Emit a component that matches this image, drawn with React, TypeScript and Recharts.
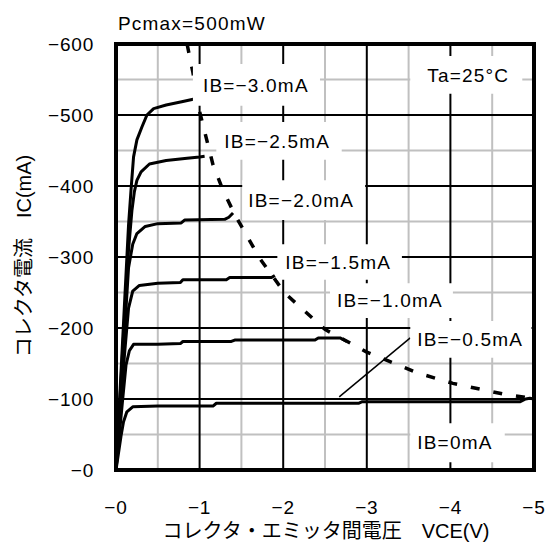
import { LineChart, Line, XAxis, YAxis, ReferenceArea, ReferenceLine } from "recharts"

const vceTicks = [0, 1, 2, 3, 4, 5]
const icTicks = [0, 100, 200, 300, 400, 500, 600]
const vceMinor = [0.5, 1.5, 2.5, 3.5, 4.5]
const icMinor = [50, 150, 250, 350, 450, 550]
const vceMajor = [1, 2, 3, 4]
const icMajor = [100, 200, 300, 400, 500]

// [VCE (V), IC (mA)], sign dropped (the axes print the minus)
const ib05 = [[0, 0], [0.03, 24], [0.06, 48], [0.09, 68], [0.13, 82], [0.2, 89], [0.5, 90], [1.16, 90], [1.2, 94], [2.9, 94], [2.94, 96], [4.83, 96], [4.9, 100], [4.95, 101], [5, 100]]
const ib10 = [[0, 0], [0.04, 50], [0.08, 100], [0.12, 148], [0.16, 168], [0.21, 177], [0.5, 177], [0.77, 178], [0.8, 181], [1.38, 181], [1.42, 183], [2.38, 183], [2.42, 186], [2.68, 186], [2.76, 181]]
const ib15 = [[0, 0], [0.05, 80], [0.1, 160], [0.15, 228], [0.2, 252], [0.28, 260], [0.5, 263], [0.77, 264], [0.8, 268], [1.32, 268], [1.36, 271], [1.86, 271], [1.9, 274]]
const ib20 = [[0, 0], [0.05, 95], [0.1, 190], [0.15, 285], [0.2, 318], [0.25, 333], [0.35, 343], [0.5, 347], [0.78, 348], [0.82, 352], [1.3, 353], [1.35, 356], [1.4, 362]]
const ib25 = [[0, 0], [0.05, 105], [0.1, 210], [0.15, 310], [0.19, 365], [0.22, 392], [0.25, 408], [0.3, 420], [0.4, 431], [0.6, 436], [0.85, 439], [1.0, 441], [1.06, 442]]
const ib30 = [[0, 0], [0.05, 115], [0.1, 230], [0.15, 345], [0.18, 395], [0.21, 441], [0.25, 465], [0.31, 483], [0.37, 500], [0.45, 509], [0.6, 514], [0.8, 519], [0.95, 523]]
const pcmax = [[0.85, 600], [0.92, 560], [1.0, 505], [1.16, 430], [1.28, 394], [1.42, 360], [1.72, 298], [2.02, 249], [2.5, 198], [3.0, 166], [3.6, 137], [4.03, 122], [4.63, 107], [4.98, 101]]

const curves = [ib05, ib10, ib15, ib20, ib25, ib30]

const toPoints = (pts: number[][]) => pts.map(([v, i]) => ({ v, i }))

const vLine = (v: number) => [{ v, i: 0 }, { v, i: 600 }]
const hLine = (i: number) => [{ v: 0, i }, { v: 5, i }]

const MINUS = "\u2212"
const fmt = (n: number) => MINUS + n

const font = "'Liberation Sans', Arial, 'Noto Sans CJK JP', sans-serif"

// white label boxes: text, left V, right V, top mA, bottom mA, text inset
const notes: [string, number, number, number, number, number][] = [
  ["IB=" + MINUS + "3.0mA", 0.92, 2.44, 572, 513, 10],
  ["IB=" + MINUS + "2.5mA", 1.2, 2.7, 490, 437, 8],
  ["IB=" + MINUS + "2.0mA", 1.51, 2.98, 408, 352, 6],
  ["IB=" + MINUS + "1.5mA", 1.93, 3.42, 318, 268, 8],
  ["IB=" + MINUS + "1.0mA", 2.56, 4.03, 263, 214, 7],
  ["IB=" + MINUS + "0.5mA", 3.52, 4.97, 210, 158, 7],
  ["IB=0mA", 3.52, 4.65, 66, 11, 7],
  ["Ta=25°C", 3.52, 4.86, 583, 530, 17],
]

const tickStyle = { fontSize: 19, fill: "#000", fontFamily: font, letterSpacing: 0.8 }

// plot area in px (chart margins below)
const plot = { left: 116, top: 44, width: 418, height: 426 }

const gridLine = (key: string, data: { v: number; i: number }[], stroke: string, width: number) => (
  <Line
    key={key}
    data={data}
    dataKey="i"
    type="linear"
    stroke={stroke}
    strokeWidth={width}
    dot={false}
    activeDot={false}
    legendType="none"
    isAnimationActive={false}
  />
)

export default function App() {
  return (
    <div style={{ position: "absolute", left: 0, top: 0, width: 548, height: 543, background: "#fff" }}>
      <LineChart width={548} height={543} margin={{ top: 44, right: 14, bottom: 33, left: 56 }}>
        <XAxis
          type="number"
          dataKey="v"
          domain={[0, 5]}
          ticks={vceTicks}
          tickFormatter={fmt}
          tickSize={0}
          tickMargin={31}
          axisLine={false}
          height={40}
          tick={tickStyle}
          allowDataOverflow
        />
        <YAxis
          type="number"
          domain={[0, 600]}
          ticks={icTicks}
          tickFormatter={fmt}
          tickSize={0}
          tickMargin={22}
          axisLine={false}
          width={60}
          tick={tickStyle}
          allowDataOverflow
        />
        {vceMinor.map((v) => gridLine("vm" + v, vLine(v), "#c0c0c0", 2))}
        {icMinor.map((i) => gridLine("im" + i, hLine(i), "#c0c0c0", 2))}
        {vceMajor.map((v) => gridLine("vM" + v, vLine(v), "#000", 2))}
        {icMajor.map((i) => gridLine("iM" + i, hLine(i), "#000", 2))}
        {curves.map((c, k) => (
          <Line
            key={"ib" + k}
            data={toPoints(c)}
            dataKey="i"
            type="linear"
            stroke="#000"
            strokeWidth={3}
            strokeLinejoin="round"
            dot={false}
            isAnimationActive={false}
          />
        ))}
        <Line
          key="pcmax"
          data={toPoints(pcmax)}
          dataKey="i"
          type="linear"
          stroke="#000"
          strokeWidth={3.5}
          strokeDasharray="9 14"
          dot={false}
          isAnimationActive={false}
        />
        <ReferenceLine segment={[{ x: 2.67, y: 103 }, { x: 3.52, y: 186 }]} stroke="#000" strokeWidth={1.5} zIndex={440} />
        {notes.map(([text, x1, x2, y1, y2, inset]) => (
          <ReferenceArea
            key={text}
            x1={x1}
            x2={x2}
            y1={y2}
            y2={y1}
            fill="#fff"
            fillOpacity={1}
            stroke="none"
            zIndex={450}
            label={{ value: text, position: "insideLeft", offset: inset, fontSize: 19, fill: "#000", fontFamily: font, letterSpacing: 1.2 }}
          />
        ))}
      </LineChart>
      {/* plot frame */}
      <div
        style={{
          position: "absolute",
          left: plot.left - 2,
          top: plot.top - 2,
          width: plot.width + 4,
          height: plot.height + 4,
          border: "4px solid #000",
          boxSizing: "border-box",
          pointerEvents: "none",
          zIndex: 5,
        }}
      />
      <div style={{ position: "absolute", left: 118, top: 24, transform: "translateY(-50%)", fontFamily: font, fontSize: 19, letterSpacing: 1.2, lineHeight: 1.15, whiteSpace: "nowrap" }}>
        Pcmax=500mW
      </div>
      <div style={{ position: "absolute", left: 326, top: 531, transform: "translate(-50%, -50%)", fontFamily: font, fontSize: 20, lineHeight: 1, whiteSpace: "nowrap" }}>
        コレクタ・エミッタ間電圧　VCE(V)
      </div>
      <div style={{ position: "absolute", left: 24, top: 256, transform: "translate(-50%, -50%) rotate(-90deg)", fontFamily: font, fontSize: 20, lineHeight: 1, whiteSpace: "nowrap" }}>
        コレクタ電流　IC(mA)
      </div>
    </div>
  )
}
